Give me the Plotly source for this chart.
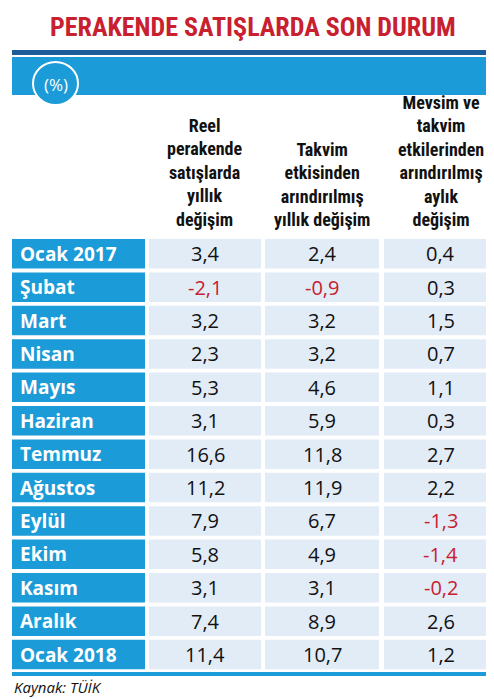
import plotly.graph_objects as go

months = ["Ocak 2017", "Şubat", "Mart", "Nisan", "Mayıs", "Haziran", "Temmuz",
          "Ağustos", "Eylül", "Ekim", "Kasım", "Aralık", "Ocak 2018"]
reel = [3.4, -2.1, 3.2, 2.3, 5.3, 3.1, 16.6, 11.2, 7.9, 5.8, 3.1, 7.4, 11.4]
takvim = [2.4, -0.9, 3.2, 3.2, 4.6, 5.9, 11.8, 11.9, 6.7, 4.9, 3.1, 8.9, 10.7]
mevsim = [0.4, 0.3, 1.5, 0.7, 1.1, 0.3, 2.7, 2.2, -1.3, -1.4, -0.2, 2.6, 1.2]
headers = ["Reel<br>perakende<br>satışlarda<br>yıllık<br>değişim",
           "Takvim<br>etkisinden<br>arındırılmış<br>yıllık değişim",
           "Mevsim ve<br>takvim<br>etkilerinden<br>arındırılmış<br>aylık<br>değişim"]

BLUE = "#1b9bd7"
DARK = "#1c5d99"
CELL = "#e2ecf7"
RED = "#c8202f"
COND = "Liberation Sans Narrow, Roboto Condensed, Arial Narrow, sans-serif"
SANS = "Open Sans, Noto Sans, sans-serif"

cols = [(141, 253), (257, 371), (376, 489)]
top0, step, h = 231, 33.4, 29.5

fig = go.Figure()
shapes = []
ann = []

# title and header band
ann.append(dict(x=245, y=19, text="<b>PERAKENDE SATIŞLARDA SON DURUM</b>", showarrow=False,
                font=dict(family=COND, size=26, color=RED)))
shapes.append(dict(type="rect", x0=4, x1=490, y0=42, y1=47, fillcolor=DARK, line_width=0))
shapes.append(dict(type="rect", x0=4, x1=490, y0=49, y1=87, fillcolor=BLUE, line_width=0))
shapes.append(dict(type="circle", x0=25, x1=70, y0=54, y1=97, fillcolor=BLUE,
                   line=dict(color="white", width=2)))
ann.append(dict(x=47.5, y=76, text="(%)", showarrow=False,
                font=dict(family=SANS, size=17, color="white")))

for j, htxt in enumerate(headers):
    x0, x1 = cols[j]
    ann.append(dict(x=(x0 + x1) / 2, y=224, yanchor="bottom", text="<b>" + htxt + "</b>",
                    showarrow=False, font=dict(family=COND, size=18, color="#111"),
                    align="center"))

for i, m in enumerate(months):
    y0 = top0 + i * step
    y1 = y0 + h
    yc = (y0 + y1) / 2
    shapes.append(dict(type="rect", x0=4, x1=137, y0=y0, y1=y1, fillcolor=BLUE, line_width=0))
    ann.append(dict(x=10, y=yc, xanchor="left", text="<b>" + m + "</b>", showarrow=False,
                    font=dict(family=SANS, size=19, color="white")))
    for j, vals in enumerate([reel, takvim, mevsim]):
        x0, x1 = cols[j]
        v = vals[i]
        shapes.append(dict(type="rect", x0=x0, x1=x1, y0=y0, y1=y1, fillcolor=CELL, line_width=0))
        ann.append(dict(x=(x0 + x1) / 2, y=yc, text=f"{v:.1f}".replace(".", ","),
                        showarrow=False,
                        font=dict(family=SANS, size=20, color=RED if v < 0 else "#111")))

shapes.append(dict(type="rect", x0=4, x1=490, y0=664, y1=668, fillcolor=BLUE, line_width=0))
ann.append(dict(x=4, y=679, xanchor="left", text="<i>Kaynak: TÜİK</i>", showarrow=False,
                font=dict(family=SANS, size=15, color="#111")))
shapes.append(dict(type="rect", x0=4, x1=490, y0=692, y1=697, fillcolor=DARK, line_width=0))

fig.update_layout(
    width=494, height=699, margin=dict(l=0, r=0, t=0, b=0),
    paper_bgcolor="white", plot_bgcolor="white",
    xaxis=dict(range=[0, 494], visible=False, fixedrange=True),
    yaxis=dict(range=[699, 0], visible=False, fixedrange=True),
    shapes=shapes, annotations=ann, showlegend=False,
)
fig.write_html("out.html")
